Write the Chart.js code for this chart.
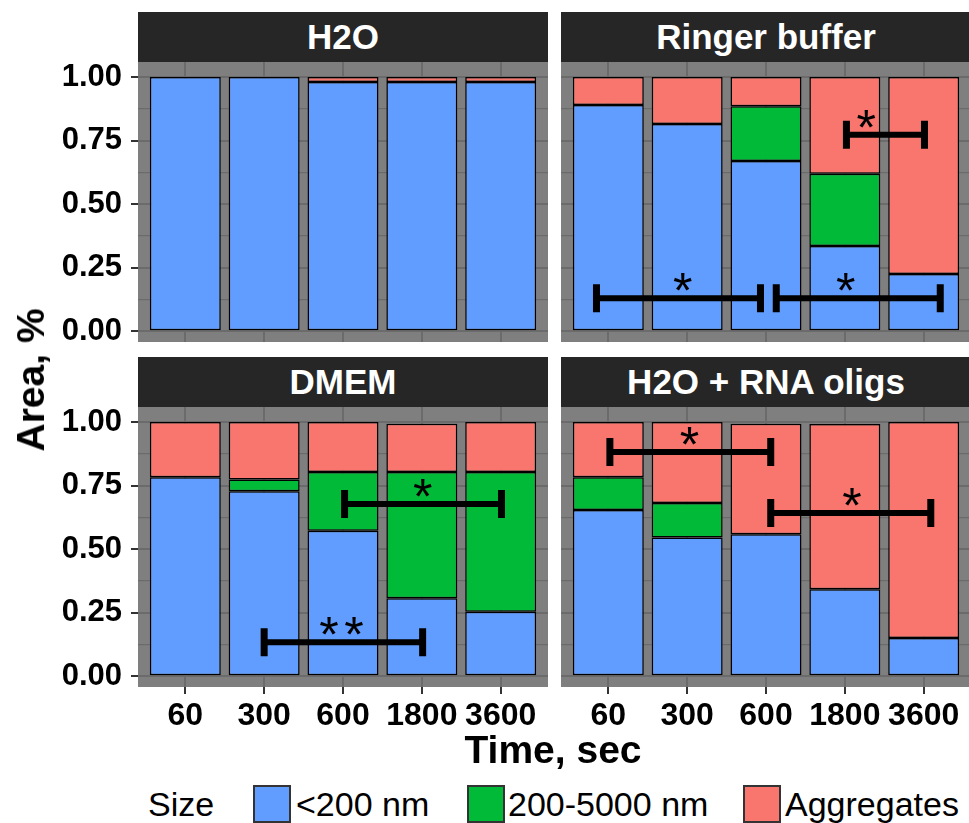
<!DOCTYPE html>
<html>
<head>
<meta charset="utf-8">
<script src="https://cdn.jsdelivr.net/npm/chart.js@4.4.1/dist/chart.umd.min.js"></script>
<style>
  html, body { margin: 0; padding: 0; background: #fff; }
  body { width: 969px; height: 823px; position: relative; overflow: hidden; font-family: "Liberation Sans", Arial, sans-serif; }
  canvas { position: absolute; }
  .strip { position: absolute; height: 50px; background: #262626; color: #fff; font-weight: bold; font-size: 35px; line-height: 50px; text-align: center; }
  .ytitle { position: absolute; left: 31px; top: 380px; transform: translate(-50%, -50%) rotate(-90deg); font-weight: bold; font-size: 39px; white-space: nowrap; }
  .xtitle { position: absolute; left: 553px; top: 750px; transform: translate(-50%, -50%); font-weight: bold; font-size: 39px; white-space: nowrap; }
  .leg { position: absolute; top: 785px; height: 38px; line-height: 38px; font-size: 34px; white-space: nowrap; }
  .key { position: absolute; top: 785px; width: 34px; height: 34px; border: 2px solid #333; }
</style>
</head>
<body>
<div class="strip" style="left:138px; top:12px; width:410px;">H2O</div>
<div class="strip" style="left:561px; top:12px; width:410px;">Ringer buffer</div>
<div class="strip" style="left:138px; top:357px; width:410px;">DMEM</div>
<div class="strip" style="left:561px; top:357px; width:410px;">H2O + RNA oligs</div>

<canvas id="c1" width="548" height="280" style="left:0; top:62px;"></canvas>
<canvas id="c2" width="410" height="280" style="left:561px; top:62px;"></canvas>
<canvas id="c3" width="548" height="330" style="left:0; top:407px;"></canvas>
<canvas id="c4" width="410" height="330" style="left:561px; top:407px;"></canvas>

<div class="ytitle">Area, %</div>
<div class="xtitle">Time, sec</div>

<div class="leg" style="left:148px;">Size</div>
<div class="key" style="left:253px; background:#619CFF;"></div>
<div class="leg" style="left:296px;">&lt;200 nm</div>
<div class="key" style="left:467px; background:#00BA38;"></div>
<div class="leg" style="left:508px;">200-5000 nm</div>
<div class="key" style="left:743px; background:#F8766D;"></div>
<div class="leg" style="left:785px;">Aggregates</div>

<script>
const times = ['60', '300', '600', '1800', '3600'];
const sizes = ['<200 nm', '200-5000 nm', 'Aggregates'];
const colors = ['#619CFF', '#00BA38', '#F8766D'];
const yTicks = [0, 0.25, 0.5, 0.75, 1];
const yMinor = [0.125, 0.375, 0.625, 0.875];

// fractions per time point
const h2oSmall = [1.00, 1.00, 0.98, 0.98, 0.98];
const h2oMid = [0, 0, 0, 0, 0];
const h2oAgg = [0, 0, 0.02, 0.02, 0.02];

const ringerSmall = [0.89, 0.815, 0.67, 0.335, 0.225];
const ringerMid = [0, 0, 0.215, 0.285, 0];
const ringerAgg = [0.11, 0.185, 0.115, 0.38, 0.775];

const dmemSmall = [0.783, 0.728, 0.572, 0.307, 0.254];
const dmemMid = [0, 0.046, 0.231, 0.496, 0.549];
const dmemAgg = [0.217, 0.226, 0.197, 0.19, 0.197];

const rnaSmall = [0.654, 0.546, 0.559, 0.342, 0.151];
const rnaMid = [0.129, 0.136, 0, 0, 0];
const rnaAgg = [0.217, 0.318, 0.434, 0.65, 0.849];

// significance brackets: from, to (time index), height, label, label x
const ringerSig = [
    { x1: -0.15, x2: 1.93, y: 0.13, label: '*', lx: 0.945 },
    { x1: 2.13, x2: 4.21, y: 0.13, label: '*', lx: 3.01 },
    { x1: 3.02, x2: 4.01, y: 0.773, label: '*', lx: 3.27 }
];
const dmemSig = [
    { x1: 2.02, x2: 4.01, y: 0.678, label: '*', lx: 3.01 },
    { x1: 1.0, x2: 3.01, y: 0.134, label: '**', lx: 1.98 }
];
const rnaSig = [
    { x1: 0.02, x2: 2.06, y: 0.882, label: '*', lx: 1.03 },
    { x1: 2.06, x2: 4.09, y: 0.642, label: '*', lx: 3.09 }
];

const font = '"Liberation Sans", Arial, sans-serif';

const panelBg = {
    id: 'panelBg',
    beforeDraw(chart) {
        const a = chart.chartArea;
        chart.ctx.save();
        chart.ctx.fillStyle = '#7F7F7F';
        chart.ctx.fillRect(a.left, a.top, a.right - a.left, a.bottom - a.top);
        chart.ctx.restore();
    }
};

const brackets = {
    id: 'brackets',
    afterDatasetsDraw(chart, args, opts) {
        const sig = opts.items || [];
        const ctx = chart.ctx;
        const x = chart.scales.x, y = chart.scales.y;
        ctx.save();
        ctx.strokeStyle = '#000';
        ctx.fillStyle = '#000';
        sig.forEach(s => {
            const px1 = x.getPixelForValue(s.x1);
            const px2 = x.getPixelForValue(s.x2);
            const py = y.getPixelForValue(s.y);
            ctx.lineWidth = 6;
            ctx.beginPath();
            ctx.moveTo(px1, py);
            ctx.lineTo(px2, py);
            ctx.stroke();
            ctx.lineWidth = 7;
            ctx.beginPath();
            ctx.moveTo(px1, py - 14);
            ctx.lineTo(px1, py + 14);
            ctx.moveTo(px2, py - 14);
            ctx.lineTo(px2, py + 14);
            ctx.stroke();
            ctx.font = 'normal 50px ' + font;
            ctx.textAlign = 'center';
            ctx.textBaseline = 'alphabetic';
            const cx = x.getPixelForValue(s.lx);
            const n = s.label.length;
            for (let i = 0; i < n; i++) {
                ctx.fillText('*', cx + (i - (n - 1) / 2) * 25, py - 16 + 26);
            }
        });
        ctx.restore();
    }
};

function makePanel(id, small, mid, agg, sig, showY, showX) {
    const vals = [small, mid, agg];
    return new Chart(document.getElementById(id), {
        type: 'bar',
        data: {
            datasets: vals.map((v, k) => ({
                label: sizes[k],
                data: v.map((val, i) => ({ x: i, y: val })),
                backgroundColor: colors[k],
                borderColor: '#000',
                borderWidth: 1.5,
                borderSkipped: false,
                categoryPercentage: 1,
                barPercentage: 0.9
            }))
        },
        options: {
            responsive: false,
            animation: false,
            layout: { padding: 0 },
            plugins: {
                legend: { display: false },
                tooltip: { enabled: false },
                brackets: { items: sig }
            },
            scales: {
                x: {
                    type: 'linear',
                    stacked: true,
                    offset: false,
                    min: -0.6,
                    max: 4.6,
                    afterBuildTicks: s => { s.ticks = times.map((t, i) => ({ value: i })); },
                    afterFit: s => { s.height = showX ? 50 : 0; s.paddingLeft = 0; s.paddingRight = 0; },
                    border: { display: false },
                    grid: {
                        offset: false,
                        color: '#6B6B6B',
                        lineWidth: 2,
                        drawTicks: showX,
                        tickLength: 7,
                        tickColor: '#333',
                        tickWidth: 2
                    },
                    ticks: {
                        display: showX,
                        autoSkip: false,
                        maxRotation: 0,
                        padding: 3,
                        color: '#000',
                        font: { family: font, size: 32, weight: 'bold' },
                        callback: v => times[v]
                    }
                },
                y: {
                    stacked: true,
                    min: -0.042,
                    max: 1.059,
                    afterBuildTicks: s => {
                        s.ticks = yTicks.concat(yMinor).sort((a, b) => a - b).map(v => ({ value: v }));
                    },
                    afterFit: s => { s.width = showY ? 138 : 0; s.paddingTop = 0; s.paddingBottom = 0; },
                    border: { display: false },
                    grid: {
                        color: '#6B6B6B',
                        lineWidth: c => yMinor.includes(c.tick && c.tick.value) ? 1.2 : 2,
                        drawTicks: showY,
                        tickLength: 7,
                        tickColor: c => yMinor.includes(c.tick && c.tick.value) ? 'rgba(0,0,0,0)' : '#333',
                        tickWidth: 2
                    },
                    ticks: {
                        display: showY,
                        autoSkip: false,
                        padding: 9,
                        color: '#000',
                        font: { family: font, size: 31, weight: 'bold' },
                        callback: v => yTicks.includes(v) ? v.toFixed(2) : ''
                    }
                }
            }
        },
        plugins: [panelBg, brackets]
    });
}

makePanel('c1', h2oSmall, h2oMid, h2oAgg, [], true, false);
makePanel('c2', ringerSmall, ringerMid, ringerAgg, ringerSig, false, false);
makePanel('c3', dmemSmall, dmemMid, dmemAgg, dmemSig, true, true);
makePanel('c4', rnaSmall, rnaMid, rnaAgg, rnaSig, false, true);
</script>
</body>
</html>
